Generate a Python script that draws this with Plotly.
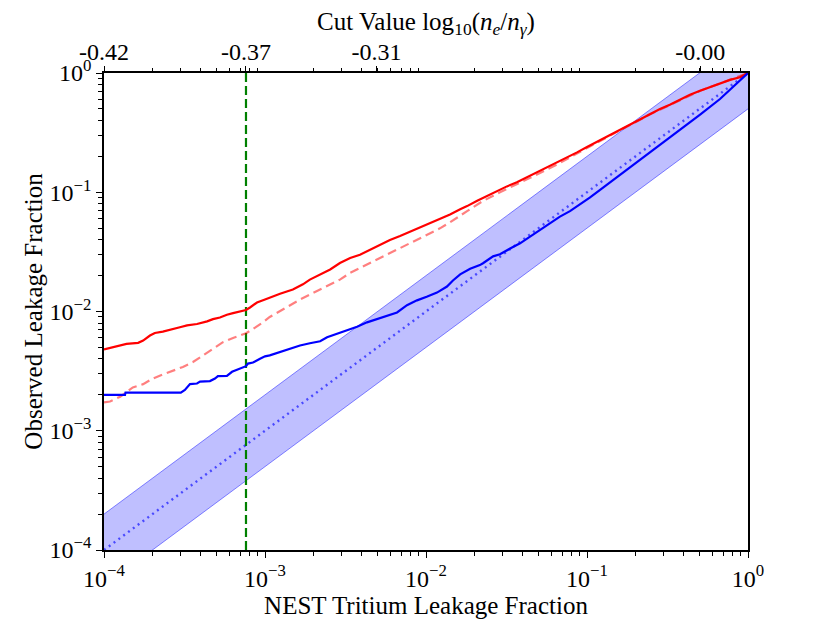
import plotly.graph_objects as go

# ---------------- data ----------------
red_x = [1.00e-4, 1.14e-4, 1.29e-4, 1.38e-4, 1.63e-4, 1.75e-4, 1.93e-4, 2.07e-4, 2.32e-4, 2.57e-4,
         2.96e-4, 3.28e-4, 3.78e-4, 4.37e-4, 4.75e-4, 5.25e-4, 5.80e-4, 6.33e-4, 7.00e-4, 7.62e-4,
         8.07e-4, 8.92e-4, 1.00e-3, 1.07e-3, 1.24e-3, 1.49e-3, 1.72e-3, 1.90e-3, 2.20e-3, 2.54e-3,
         2.92e-3, 3.38e-3, 3.89e-3, 4.49e-3, 5.18e-3, 5.97e-3, 6.90e-3, 7.96e-3, 9.18e-3, 1.06e-2,
         1.22e-2, 1.41e-2, 1.63e-2, 1.80e-2, 2.08e-2, 2.39e-2, 2.76e-2, 3.18e-2, 3.67e-2, 4.24e-2,
         4.89e-2, 5.65e-2, 6.51e-2, 7.51e-2, 8.67e-2, 0.100, 0.115, 0.133, 0.160, 0.185,
         0.213, 0.246, 0.284, 0.327, 0.378, 0.436, 0.504, 0.581, 0.670, 0.773, 0.891, 1.0]
red_y = [4.81e-3, 5.03e-3, 5.19e-3, 5.35e-3, 5.46e-3, 5.71e-3, 6.29e-3, 6.61e-3, 6.79e-3, 7.00e-3,
         7.37e-3, 7.65e-3, 7.85e-3, 8.26e-3, 8.63e-3, 8.91e-3, 9.39e-3, 9.68e-3, 9.95e-3, 1.03e-2,
         1.08e-2, 1.19e-2, 1.26e-2, 1.31e-2, 1.41e-2, 1.53e-2, 1.69e-2, 1.85e-2, 2.04e-2, 2.25e-2,
         2.55e-2, 2.81e-2, 2.99e-2, 3.29e-2, 3.62e-2, 3.98e-2, 4.30e-2, 4.67e-2, 5.04e-2, 5.48e-2,
         5.94e-2, 6.50e-2, 7.20e-2, 7.65e-2, 8.50e-2, 9.35e-2, 0.1030, 0.1120, 0.1215, 0.1337,
         0.147, 0.162, 0.178, 0.196, 0.216, 0.240, 0.265, 0.294, 0.333, 0.370,
         0.410, 0.452, 0.498, 0.542, 0.597, 0.657, 0.709, 0.761, 0.822, 0.875, 0.921, 1.0]

pink_x = [1.00e-4, 1.09e-4, 1.26e-4, 1.39e-4, 1.51e-4, 1.75e-4, 2.01e-4, 2.32e-4, 2.68e-4, 3.09e-4,
          3.57e-4, 4.12e-4, 4.75e-4, 5.48e-4, 6.33e-4, 7.62e-4, 8.42e-4, 9.72e-4, 1.07e-3, 1.24e-3,
          1.43e-3, 1.65e-3, 1.90e-3, 2.20e-3, 2.54e-3, 2.92e-3, 3.38e-3, 3.89e-3, 4.49e-3, 5.18e-3,
          5.97e-3, 6.90e-3, 7.96e-3, 9.18e-3, 1.06e-2, 1.22e-2, 1.41e-2, 1.63e-2, 1.80e-2, 2.26e-2,
          2.88e-2, 4.43e-2, 6.79e-2, 0.104, 0.160, 0.246, 0.504, 1.0]
pink_y = [1.73e-3, 1.76e-3, 1.93e-3, 2.13e-3, 2.31e-3, 2.46e-3, 2.74e-3, 2.96e-3, 3.18e-3, 3.43e-3,
          3.77e-3, 4.29e-3, 4.86e-3, 5.53e-3, 6.00e-3, 6.57e-3, 7.13e-3, 8.11e-3, 9.00e-3, 1.01e-2,
          1.14e-2, 1.26e-2, 1.39e-2, 1.53e-2, 1.69e-2, 1.85e-2, 2.11e-2, 2.32e-2, 2.55e-2, 2.81e-2,
          3.09e-2, 3.40e-2, 3.74e-2, 4.11e-2, 4.53e-2, 4.98e-2, 5.60e-2, 6.40e-2, 6.95e-2, 8.45e-2,
          0.100, 0.132, 0.176, 0.242, 0.330, 0.450, 0.709, 1.0]

blue_x = [1.00e-4, 1.35e-4, 1.36e-4, 3.00e-4, 3.18e-4, 3.42e-4, 3.78e-4, 3.95e-4, 4.55e-4, 4.89e-4,
          5.10e-4, 5.80e-4, 6.24e-4, 6.70e-4, 7.20e-4, 7.62e-4, 7.84e-4, 8.42e-4, 9.31e-4, 1.00e-3,
          1.07e-3, 1.24e-3, 1.43e-3, 1.65e-3, 1.90e-3, 2.20e-3, 2.43e-3, 2.80e-3, 3.23e-3, 3.73e-3,
          4.30e-3, 4.96e-3, 5.73e-3, 6.61e-3, 7.62e-3, 8.79e-3, 1.01e-2, 1.17e-2, 1.35e-2, 1.47e-2,
          1.63e-2, 1.88e-2, 2.16e-2, 2.26e-2, 2.61e-2, 2.88e-2, 3.33e-2, 3.84e-2, 4.43e-2, 5.11e-2,
          5.89e-2, 6.79e-2, 7.84e-2, 9.05e-2, 0.104, 0.120, 0.160, 0.213, 0.284, 0.378,
          0.504, 0.670, 0.830, 1.0]
blue_y = [2.00e-3, 2.00e-3, 2.09e-3, 2.09e-3, 2.20e-3, 2.46e-3, 2.49e-3, 2.58e-3, 2.61e-3, 2.74e-3,
          2.87e-3, 2.89e-3, 3.12e-3, 3.26e-3, 3.37e-3, 3.48e-3, 3.66e-3, 3.73e-3, 4.02e-3, 4.21e-3,
          4.29e-3, 4.57e-3, 4.87e-3, 5.19e-3, 5.42e-3, 5.63e-3, 6.08e-3, 6.48e-3, 7.00e-3, 7.46e-3,
          8.11e-3, 8.63e-3, 9.20e-3, 9.82e-3, 1.13e-2, 1.24e-2, 1.33e-2, 1.44e-2, 1.62e-2, 1.82e-2,
          2.05e-2, 2.28e-2, 2.45e-2, 2.54e-2, 2.90e-2, 3.02e-2, 3.37e-2, 3.73e-2, 4.24e-2, 4.84e-2,
          5.50e-2, 6.25e-2, 6.95e-2, 7.90e-2, 9.00e-2, 0.104, 0.139, 0.185, 0.247, 0.332,
          0.447, 0.605, 0.785, 1.0]

diag_x = [1e-4, 1.0]
band_factor = 2.0
cut_x = 7.62e-4

bottom_tickvals = [1e-4, 1e-3, 1e-2, 1e-1, 1.0]
bottom_ticktext = ["10<sup>−4</sup>", "10<sup>−3</sup>", "10<sup>−2</sup>", "10<sup>−1</sup>", "10<sup>0</sup>"]
left_tickvals = bottom_tickvals
left_ticktext = bottom_ticktext
top_tickvals = [1e-4, 7.62e-4, 4.93e-3, 0.506]
top_ticktext = ["-0.42", "-0.37", "-0.31", "-0.00"]
minor_vals = [k * 10.0 ** e for e in range(-4, 0) for k in range(2, 10)]

# ---------------- figure ----------------
FONT = "Liberation Serif"
fig = go.Figure()

upper = [v * band_factor for v in diag_x]
lower = [v / band_factor for v in diag_x]
fig.add_trace(go.Scatter(x=diag_x, y=lower, mode="lines",
                         line=dict(color="rgba(0,0,255,0.45)", width=1), showlegend=False))
fig.add_trace(go.Scatter(x=diag_x, y=upper, mode="lines", fill="tonexty",
                         fillcolor="rgba(0,0,255,0.25)",
                         line=dict(color="rgba(0,0,255,0.45)", width=1), showlegend=False))
fig.add_trace(go.Scatter(x=diag_x, y=diag_x, mode="lines",
                         line=dict(color="rgba(60,60,255,0.9)", width=2.4, dash="2px,4px"),
                         showlegend=False))
fig.add_trace(go.Scatter(x=[cut_x, cut_x], y=[1e-4, 1.0], mode="lines",
                         line=dict(color="green", width=2.2, dash="9px,4px"), showlegend=False))
fig.add_trace(go.Scatter(x=pink_x, y=pink_y, mode="lines",
                         line=dict(color="rgba(255,0,0,0.5)", width=2.2, dash="9px,5px"),
                         showlegend=False))
fig.add_trace(go.Scatter(x=red_x, y=red_y, mode="lines",
                         line=dict(color="red", width=2.2), showlegend=False))
fig.add_trace(go.Scatter(x=blue_x, y=blue_y, mode="lines",
                         line=dict(color="blue", width=2.2), showlegend=False))
# invisible trace to activate the top axis
fig.add_trace(go.Scatter(x=diag_x, y=diag_x, xaxis="x2", mode="lines",
                         line=dict(width=0), opacity=0, showlegend=False, hoverinfo="skip"))

tick_font = dict(family=FONT, size=24, color="black")
title_font = dict(family=FONT, size=25, color="black")
fig.update_layout(
    width=830, height=623,
    paper_bgcolor="white", plot_bgcolor="white",
    margin=dict(l=104, r=82, t=73, b=68),
    font=dict(family=FONT, size=24, color="black"),
    showlegend=False,
    xaxis=dict(type="log", range=[-4, 0], showgrid=False, zeroline=False,
               showline=True, linecolor="black", linewidth=1.5, mirror=True,
               tickmode="array", tickvals=bottom_tickvals, ticktext=bottom_ticktext,
               ticks="outside", ticklen=6, tickwidth=1.2, tickcolor="black",
               tickfont=tick_font,
               minor=dict(tickmode="array", tickvals=minor_vals, ticks="outside",
                          ticklen=4, tickwidth=1, tickcolor="black", showgrid=False),
               title=dict(text="NEST Tritium Leakage Fraction", font=title_font, standoff=2)),
    xaxis2=dict(type="log", range=[-4, 0], overlaying="x", side="top", anchor="y",
                showgrid=False, zeroline=False, showline=False,
                tickmode="array", tickvals=top_tickvals, ticktext=top_ticktext,
                ticks="outside", ticklen=6, tickwidth=1.2, tickcolor="black",
                ticklabelstandoff=-4,
                tickfont=tick_font,
                minor=dict(tickmode="array", tickvals=minor_vals, ticks="outside",
                           ticklen=4, tickwidth=1, tickcolor="black", showgrid=False),
                title=dict(text="Cut Value log<sub>10</sub>(<i>n</i><sub><i>e</i></sub>/<i>n</i><sub><i>γ</i></sub>)",
                           font=title_font, standoff=0)),
    yaxis=dict(type="log", range=[-4, 0], showgrid=False, zeroline=False,
               showline=True, linecolor="black", linewidth=1.5, mirror=True,
               tickmode="array", tickvals=left_tickvals, ticktext=left_ticktext,
               ticks="outside", ticklen=6, tickwidth=1.2, tickcolor="black",
               tickfont=tick_font,
               minor=dict(tickmode="array", tickvals=minor_vals, ticks="outside",
                          ticklen=4, tickwidth=1, tickcolor="black", showgrid=False),
               title=dict(text="Observed Leakage Fraction", font=title_font, standoff=0)),
)

fig.write_html("out.html", config={"displayModeBar": False},
               post_script="document.body.style.margin='0';document.body.style.overflow='hidden';")
